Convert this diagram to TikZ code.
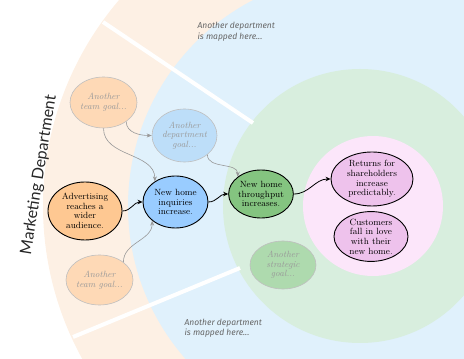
\documentclass[tikz,border=0pt]{standalone}
\usepackage{fontspec}
\setsansfont{Lato}
\newfontfamily\notefont{Fira Sans}
\usetikzlibrary{shapes.geometric, arrows.meta, positioning}

\definecolor{peachbg}{HTML}{FDF0E4}
\definecolor{bluebg}{HTML}{E0F1FC}
\definecolor{greenbg}{HTML}{D8EEDE}
\definecolor{pinkbg}{HTML}{FCE6FA}
\definecolor{advorange}{HTML}{FEC892}
\definecolor{inqblue}{HTML}{99CCFF}
\definecolor{thrgreen}{HTML}{84C480}
\definecolor{retpink}{HTML}{EEC2EC}
\definecolor{teampeach}{HTML}{FED9B6}
\definecolor{deptblue}{HTML}{BDDEF9}
\definecolor{stratgreen}{HTML}{AEDAAE}

\begin{document}
\begin{tikzpicture}[x=1pt, y=1pt,
                goal/.style={ellipse, draw=black, line width=0.9pt, align=center, inner sep=0pt, font=\fontsize{9}{9.6}\selectfont},
                faded/.style={ellipse, draw=black!25, line width=0.6pt, align=center, inner sep=0pt, text=black!40, font=\itshape\fontsize{9}{9.6}\selectfont},
                link/.style={-{Stealth[length=5pt, width=4.5pt]}, line width=0.8pt, black},
                fadedlink/.style={-{Stealth[length=5pt, width=4pt]}, line width=0.6pt, black!40},
                divider/.style={white, line width=4pt},
                note/.style={anchor=west, align=left, text=black!60, font=\notefont\itshape\fontsize{8.5}{10.5}\selectfont}]

            \useasboundingbox (0,0) rectangle (464,359);
            \clip (0,0) rectangle (464,359);

            % Department rings
            \coordinate (ctr) at (360,153);
            \fill[peachbg] (ctr) circle[radius=317pt];
            \fill[bluebg] (ctr) circle[radius=232pt];
            \fill[greenbg] (ctr) circle[radius=137pt];
            \fill[pinkbg] (373,153) circle[radius=70pt];
            \draw[divider] (103,337) -- (253,236);
            \draw[divider] (73,22) -- (240,91);

            \node[rotate=81, text=black!85, font=\sffamily\fontsize{16}{16}\selectfont] (dept) at (39,184) {Marketing Department};
            \node[note] (noteA) at (194,327.5) {Another department\\is mapped here...};
            \node[note] (noteB) at (181,31) {Another department\\is mapped here...};

            % Goals
            \node[goal, fill=advorange, minimum width=74pt, minimum height=58pt] (advert) at (85,148) {Advertising\\reaches a\\wider\\audience.};
            \node[goal, fill=inqblue, minimum width=65pt, minimum height=52pt] (inquiries) at (175.5,157) {New home\\inquiries\\increase.};
            \node[goal, fill=thrgreen, minimum width=64pt, minimum height=48pt] (throughput) at (261,165) {New home\\throughput\\increases.};
            \node[goal, fill=retpink, minimum width=82pt, minimum height=54pt] (returns) at (372,180) {Returns for\\shareholders\\increase\\predictably.};
            \node[goal, fill=retpink, minimum width=74pt, minimum height=49pt] (customers) at (371,122.5) {Customers\\fall in love\\with their\\new home.};

            \node[faded, fill=teampeach, minimum width=67pt, minimum height=51pt] (teamA) at (103.5,256.5) {Another\\team goal...};
            \node[faded, fill=deptblue, minimum width=65pt, minimum height=53pt] (deptgoal) at (184.5,223.5) {Another\\department\\goal...};
            \node[faded, fill=teampeach, minimum width=67pt, minimum height=50pt] (teamB) at (99.5,79) {Another\\team goal...};
            \node[faded, fill=stratgreen, minimum width=66pt, minimum height=48pt] (strategic) at (283,94) {Another\\strategic\\goal...};

            \draw[link] (advert.east) to[out=0, in=180] (inquiries.west);
            \draw[link] (inquiries.east) to[out=0, in=180] (throughput.west);
            \draw[link] (throughput.east) to[out=0, in=180] (returns.west);
            \draw[fadedlink] (teamA.south) to[out=-90, in=90] (inquiries.135);
            \draw[fadedlink] (teamA.-40) to[out=-90, in=180] (deptgoal.west);
            \draw[fadedlink] (deptgoal.-40) to[out=-90, in=90] (throughput.north west);
            \draw[fadedlink] (teamB.north east) to[out=90, in=-90] (inquiries.south west);

        \end{tikzpicture}
\end{document}
